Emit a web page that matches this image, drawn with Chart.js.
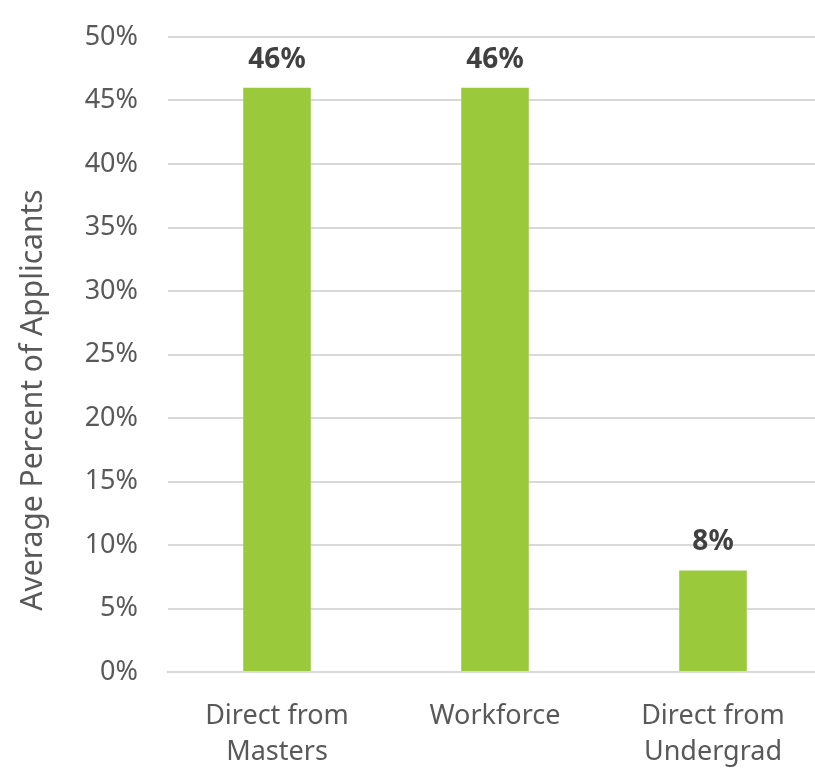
<!DOCTYPE html>
<html><head><meta charset="utf-8">
<script src="https://cdn.jsdelivr.net/npm/chart.js@4/dist/chart.umd.min.js"></script>
<style>
html,body{margin:0;padding:0;background:#fff;overflow:hidden;}
#wrap{width:822px;height:768px;position:relative;}
</style></head><body>
<div id="wrap"><canvas id="c"></canvas></div>
<script>
const categories = [["Direct from","Masters"],["Workforce"],["Direct from","Undergrad"]];
const values = [46, 46, 8];
const dataLabels = ["46%","46%","8%"];
const yTicks = [0,5,10,15,20,25,30,35,40,45,50];
const yTitle = "Average Percent of Applicants";

const FONT = "'Noto Sans', 'Open Sans', sans-serif";

const labelPlugin = {
  id:'valLabels',
  afterDatasetsDraw(chart){
    const ctx = chart.ctx;
    const meta = chart.getDatasetMeta(0);
    ctx.save();
    ctx.font = "bold 28px " + FONT;
    ctx.fillStyle = "#404040";
    ctx.textAlign = "center";
    ctx.textBaseline = "alphabetic";
    meta.data.forEach((bar,i)=>{
      ctx.fillText(dataLabels[i], bar.x, bar.y - 20);
    });
    ctx.restore();
  }
};

const yTitlePlugin = {
  id:'yTitle',
  afterDraw(chart){
    const ctx = chart.ctx;
    ctx.save();
    ctx.translate(33, 400);
    ctx.rotate(-Math.PI/2);
    ctx.font = "30px " + FONT;
    ctx.fillStyle = "#595959";
    ctx.textAlign = "center";
    ctx.textBaseline = "middle";
    ctx.fillText(yTitle, 0, 0);
    ctx.restore();
  }
};

new Chart(document.getElementById('c'), {
  type:'bar',
  data:{
    labels: categories,
    datasets:[{data: values, backgroundColor:'#9ACA3C', borderWidth:0, barPercentage:0.31, categoryPercentage:1}]
  },
  options:{
    responsive:true, maintainAspectRatio:false, animation:false,
    layout:{padding:{top:37,left:0,right:0,bottom:0}},
    plugins:{legend:{display:false}, tooltip:{enabled:false}},
    scales:{
      x:{
        grid:{display:false, drawTicks:false},
        border:{display:true, color:'#d9d9d9', width:2},
        ticks:{color:'#595959', font:{family:FONT, size:27, lineHeight:1.33}, padding:26, maxRotation:0, autoSkip:false},
        afterFit(s){ s.height = 96; s.paddingLeft = 0; s.paddingRight = 0; }
      },
      y:{
        min:0, max:50,
        afterBuildTicks(s){ s.ticks = yTicks.map(v=>({value:v})); },
        grid:{color:'#d9d9d9', lineWidth:2, drawTicks:false},
        border:{display:false},
        ticks:{color:'#595959', font:{family:FONT, size:27}, padding:30, callback:v=>v+'%'},
        title:{display:false},
        afterFit(s){ s.width = 168; s.paddingTop = 0; s.paddingBottom = 0; }
      }
    }
  },
  plugins:[labelPlugin, yTitlePlugin]
});
</script>
</body></html>
